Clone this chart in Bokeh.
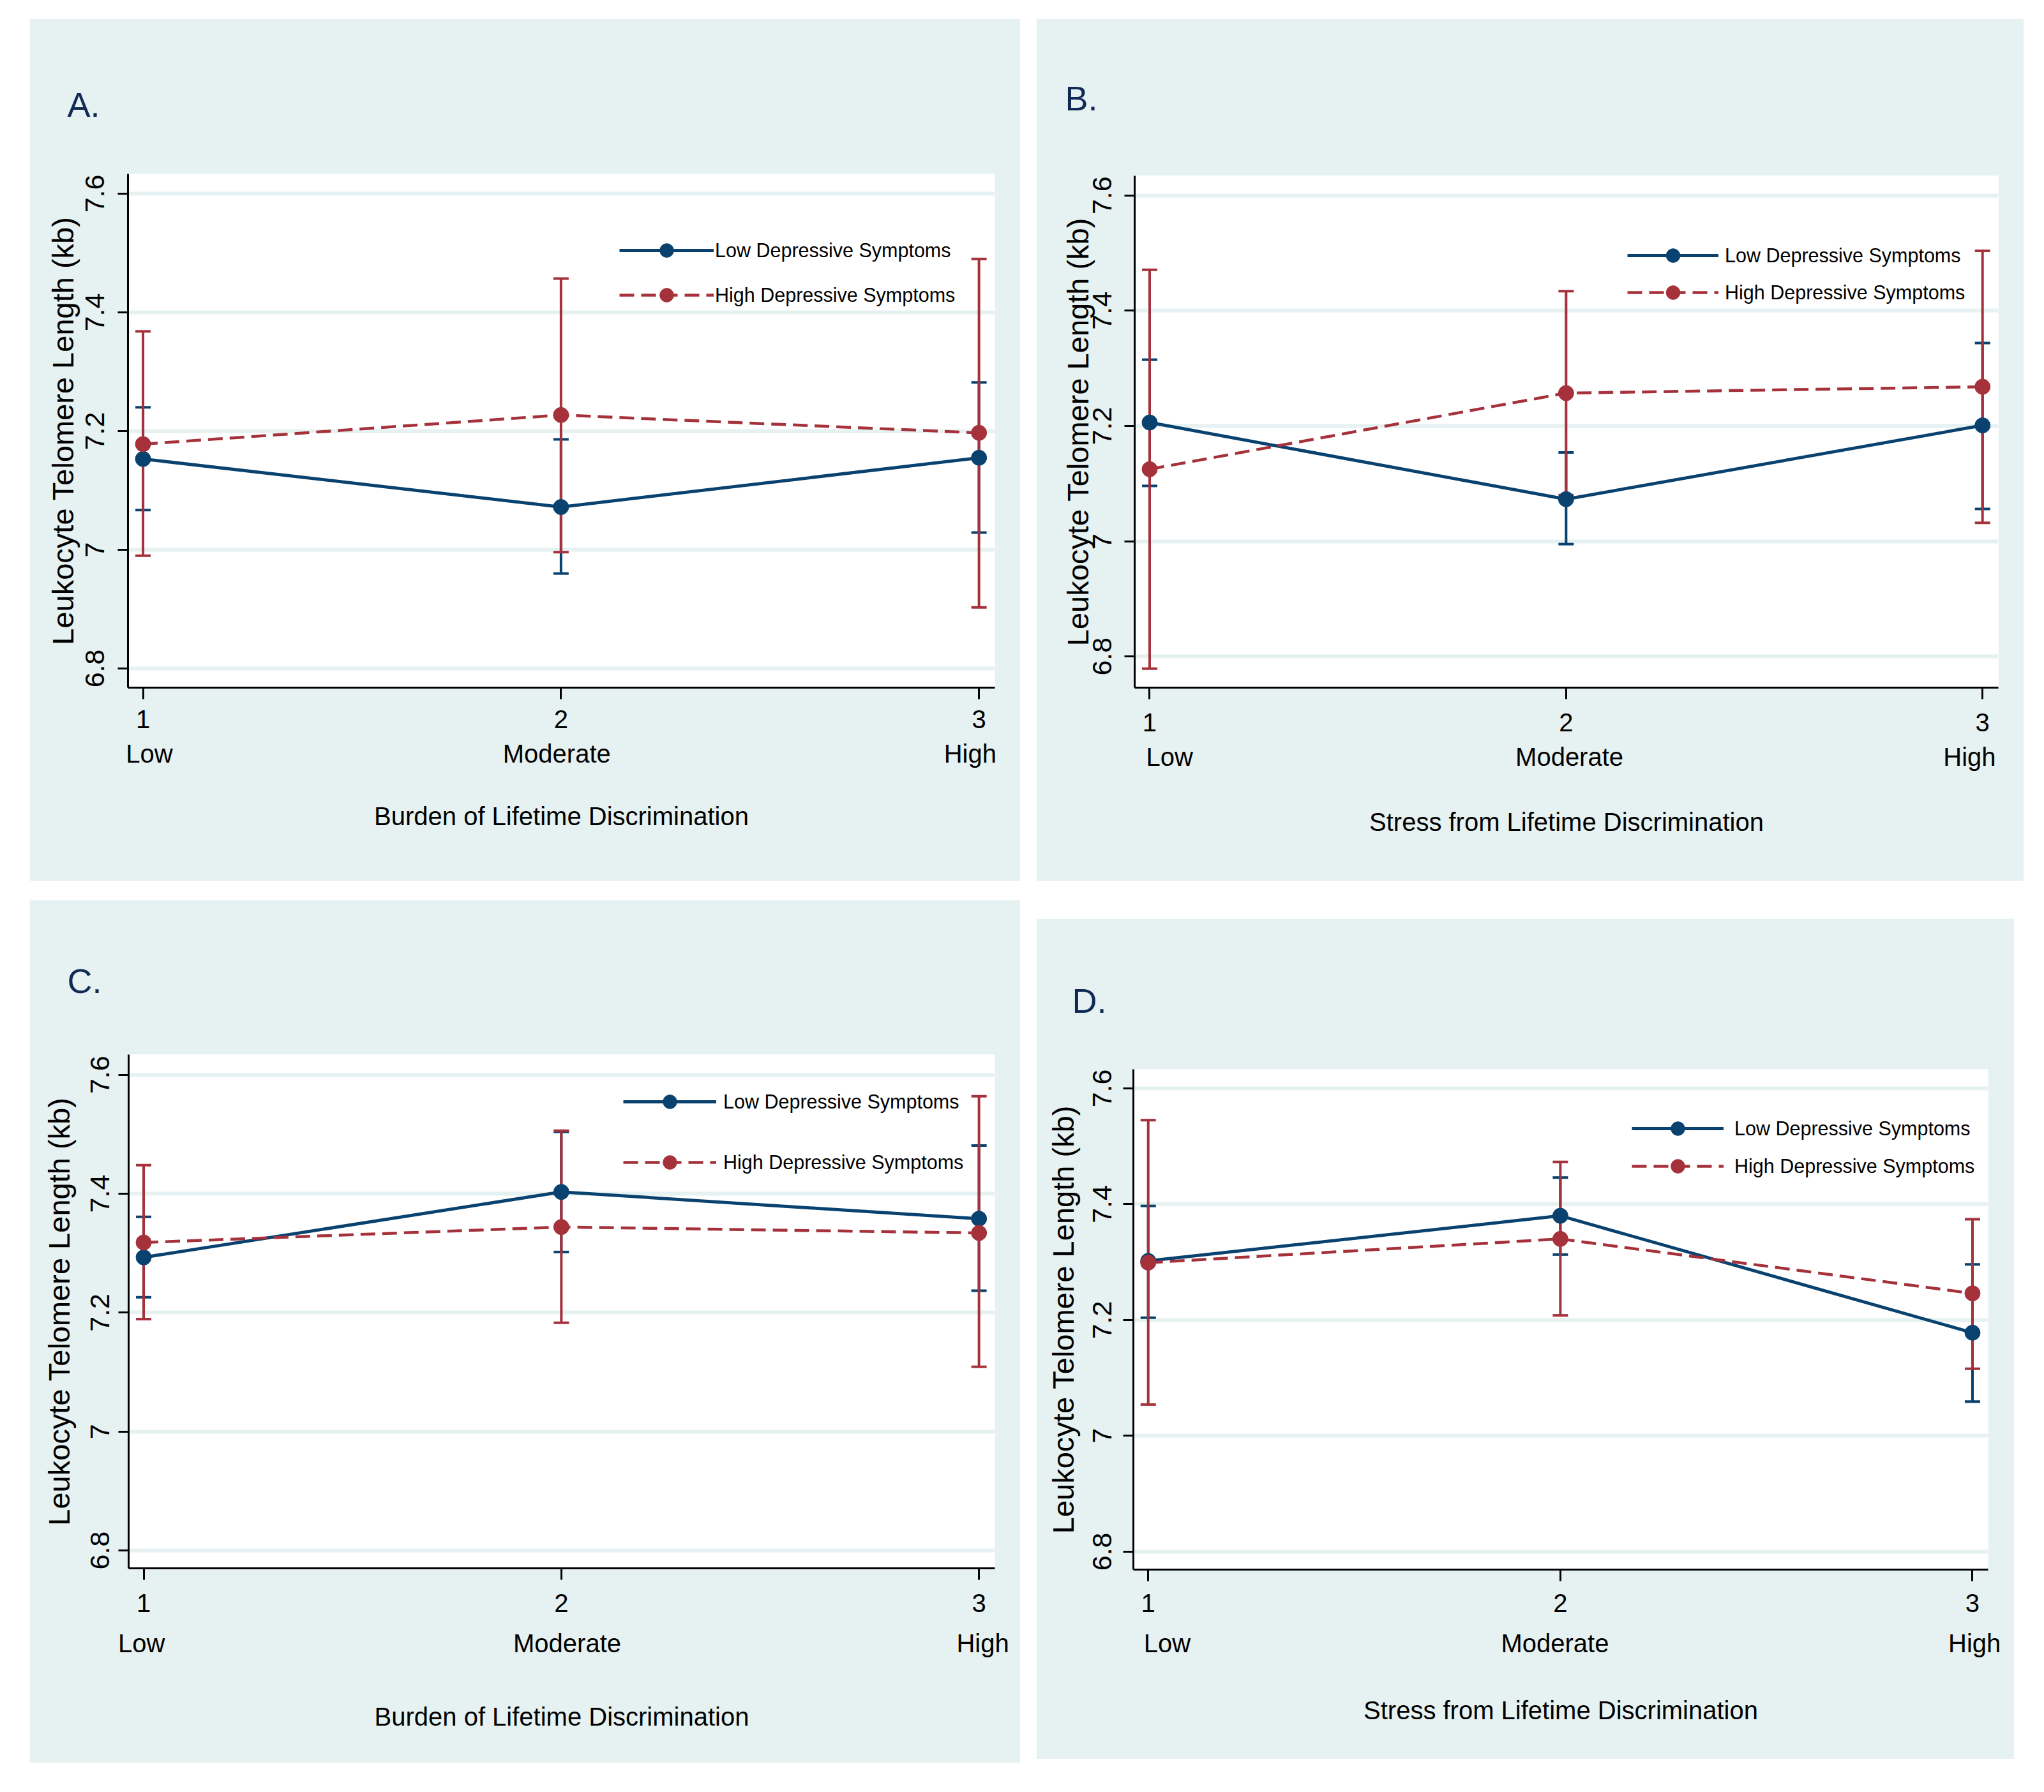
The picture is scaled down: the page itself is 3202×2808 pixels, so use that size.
from bokeh.plotting import figure
from bokeh.models import (ColumnDataSource, Whisker, TeeHead, FixedTicker, LinearAxis,
                          Legend, LegendItem, Range1d)
from bokeh.layouts import row, column
from bokeh.embed import file_html
from bokeh.resources import INLINE

# ---------------- data ----------------
x = [1, 2, 3]
x_tick_labels = ["1", "2", "3"]
level_labels = ["Low", "Moderate", "High"]
y_ticks = [6.8, 7.0, 7.2, 7.4, 7.6]
y_tick_labels = ["6.8", "7", "7.2", "7.4", "7.6"]
series_names = ["Low Depressive Symptoms", "High Depressive Symptoms"]
y_title = "Leukocyte Telomere Length (kb)"
panel_letters = ["A.", "B.", "C.", "D."]
x_titles = ["Burden of Lifetime Discrimination", "Stress from Lifetime Discrimination",
            "Burden of Lifetime Discrimination", "Stress from Lifetime Discrimination"]

# Panel A
a_low = [7.153, 7.072, 7.155]
a_low_lo = [7.067, 6.960, 7.029]
a_low_hi = [7.240, 7.186, 7.282]
a_high = [7.178, 7.227, 7.197]
a_high_lo = [6.990, 6.996, 6.903]
a_high_hi = [7.368, 7.457, 7.490]
# Panel B
b_low = [7.206, 7.073, 7.201]
b_low_lo = [7.096, 6.995, 7.056]
b_low_hi = [7.315, 7.154, 7.344]
b_high = [7.125, 7.257, 7.268]
b_high_lo = [6.779, 7.080, 7.032]
b_high_hi = [7.471, 7.434, 7.504]
# Panel C
c_low = [7.293, 7.403, 7.358]
c_low_lo = [7.226, 7.302, 7.237]
c_low_hi = [7.361, 7.504, 7.481]
c_high = [7.318, 7.344, 7.334]
c_high_lo = [7.189, 7.183, 7.109]
c_high_hi = [7.448, 7.506, 7.564]
# Panel D
d_low = [7.302, 7.380, 7.178]
d_low_lo = [7.204, 7.313, 7.059]
d_low_hi = [7.397, 7.446, 7.296]
d_high = [7.299, 7.340, 7.246]
d_high_lo = [7.054, 7.208, 7.116]
d_high_hi = [7.545, 7.473, 7.374]

# ---------------- style ----------------
BG = "#E6F1F1"
BLUE = "#0A426F"
RED = "#A5313B"
NAVY_TXT = "#102A55"
FONT = "Liberation Sans"

# geometry per panel
geoms = [
    dict(w=1552, h=1351, ml=46, mt=29, bl=154, br=40, bt=243, bb=303,
         yr=(6.7677, 7.6333), letter_off=-95, letter_so=157, lev_pos=[1.015, 1.99, 2.979],
         s1=17, s2=15, s3=51, leg=(770, 588), gw=148, sp=16, ls=2, lstand=21, tstand=7),
    dict(w=1547, h=1351, ml=25, mt=29, bl=154, br=40, bt=243, bb=303,
         yr=(6.746, 7.634), letter_off=-109, letter_so=184, lev_pos=[1.048, 2.008, 2.969],
         s1=22, s2=15, s3=55, leg=(772, 592), gw=143, sp=4, ls=10, lstand=20, tstand=-5),
    dict(w=1552, h=1352, ml=46, mt=30, bl=155, br=40, bt=242, bb=305,
         yr=(6.770, 7.634), letter_off=-96, letter_so=172, lev_pos=[0.995, 2.014, 3.009],
         s1=22, s2=24, s3=68, leg=(775, 609), gw=146, sp=41, ls=11, lstand=14, tstand=21),
    dict(w=1532, h=1317, ml=25, mt=59, bl=152, br=41, bt=236, bb=297,
         yr=(6.769, 7.633), letter_off=-96, letter_so=156, lev_pos=[1.046, 1.987, 3.005],
         s1=20, s2=24, s3=58, leg=(781, 605), gw=144, sp=5, ls=17, lstand=18, tstand=18),
]

panel_data = [
    (a_low, a_low_lo, a_low_hi, a_high, a_high_lo, a_high_hi),
    (b_low, b_low_lo, b_low_hi, b_high, b_high_lo, b_high_hi),
    (c_low, c_low_lo, c_low_hi, c_high, c_high_lo, c_high_hi),
    (d_low, d_low_lo, d_low_hi, d_high, d_high_lo, d_high_hi),
]


def make_panel(i):
    g = geoms[i]
    low, low_lo, low_hi, high, high_lo, high_hi = panel_data[i]
    p = figure(width=g["w"], height=g["h"], x_range=Range1d(0.964, 3.038),
               y_range=Range1d(*g["yr"]), output_backend="svg", toolbar_location=None,
               min_border_left=g["bl"], min_border_right=g["br"],
               min_border_top=g["bt"], min_border_bottom=g["bb"],
               background_fill_color="white", border_fill_color=BG,
               outline_line_color=None, margin=(g["mt"], 0, 0, g["ml"]))

    # panel letter as title
    p.title.text = panel_letters[i]
    p.title.align = "left"
    p.title.offset = g["letter_off"]
    p.title.standoff = g["letter_so"]
    p.title.text_font = FONT
    p.title.text_font_size = "54px"
    p.title.text_font_style = "normal"
    p.title.text_color = NAVY_TXT

    # grid
    p.xgrid.visible = False
    p.ygrid.ticker = FixedTicker(ticks=y_ticks)
    p.ygrid.grid_line_color = BG
    p.ygrid.grid_line_width = 6

    # y axis
    ya = p.yaxis[0]
    ya.ticker = FixedTicker(ticks=y_ticks)
    ya.major_label_overrides = {t: l for t, l in zip(y_ticks, y_tick_labels)}
    ya.major_label_orientation = "vertical"
    ya.minor_tick_line_color = None
    ya.major_tick_in = 0
    ya.major_tick_out = 16
    ya.major_tick_line_width = 3
    ya.axis_line_width = 3
    ya.major_label_text_font = FONT
    ya.major_label_text_font_size = "43px"
    ya.major_label_text_color = "black"
    ya.major_label_standoff = g["lstand"]
    ya.axis_label = y_title
    ya.axis_label_text_font = FONT
    ya.axis_label_text_font_size = "47px"
    ya.axis_label_text_font_style = "normal"
    ya.axis_label_text_color = "black"
    ya.axis_label_standoff = g["tstand"]

    # x axis (numbers)
    xa = p.xaxis[0]
    xa.ticker = FixedTicker(ticks=x)
    xa.major_label_overrides = {t: l for t, l in zip(x, x_tick_labels)}
    xa.minor_tick_line_color = None
    xa.major_tick_in = 0
    xa.major_tick_out = 18
    xa.major_tick_line_width = 3
    xa.axis_line_width = 3
    xa.major_label_text_font = FONT
    xa.major_label_text_font_size = "40px"
    xa.major_label_text_color = "black"
    xa.major_label_standoff = g["s1"]

    # second x axis (level names + title)
    xb = LinearAxis(ticker=FixedTicker(ticks=g["lev_pos"]),
                    major_label_overrides={t: l for t, l in zip(g["lev_pos"], level_labels)},
                    axis_line_color=None, major_tick_line_color=None,
                    minor_tick_line_color=None, major_tick_out=0, major_tick_in=0,
                    major_label_text_font=FONT, major_label_text_font_size="40px",
                    major_label_text_color="black", major_label_standoff=g["s2"],
                    axis_label=x_titles[i], axis_label_text_font=FONT,
                    axis_label_text_font_size="40px", axis_label_text_font_style="normal",
                    axis_label_text_color="black", axis_label_standoff=g["s3"])
    p.add_layout(xb, "below")

    lsrc = ColumnDataSource(dict(x=x, y=low, lo=low_lo, hi=low_hi))
    hsrc = ColumnDataSource(dict(x=x, y=high, lo=high_lo, hi=high_hi))

    for src, col in ((lsrc, BLUE), (hsrc, RED)):
        w = Whisker(base="x", lower="lo", upper="hi", source=src,
                    line_color=col, line_width=4,
                    upper_head=TeeHead(size=24, line_color=col, line_width=4),
                    lower_head=TeeHead(size=24, line_color=col, line_width=4))
        p.add_layout(w)

    bl = p.line("x", "y", source=lsrc, line_color=BLUE, line_width=5)
    rl = p.line("x", "y", source=hsrc, line_color=RED, line_width=4.5, line_dash="23 11")
    bs = p.scatter("x", "y", source=lsrc, size=24, marker="circle",
                   fill_color=BLUE, line_color=BLUE)
    rs = p.scatter("x", "y", source=hsrc, size=24, marker="circle",
                   fill_color=RED, line_color=RED)

    leg = Legend(items=[LegendItem(label=series_names[0], renderers=[bl, bs]),
                        LegendItem(label=series_names[1], renderers=[rl, rs])],
                 location=g["leg"], orientation="vertical",
                 background_fill_alpha=0, border_line_color=None,
                 padding=0, margin=0, spacing=g["sp"],
                 glyph_width=g["gw"], glyph_height=54, label_height=54,
                 label_standoff=g["ls"], label_text_font=FONT,
                 label_text_font_size="30.5px", label_text_color="black")
    p.add_layout(leg)
    return p


panels = [make_panel(i) for i in range(4)]
layout = column(row(column(panels[0]), column(panels[1]), spacing=0),
                row(column(panels[2]), column(panels[3]), spacing=0), spacing=0)

open("out.html", "w").write(file_html(layout, INLINE))
